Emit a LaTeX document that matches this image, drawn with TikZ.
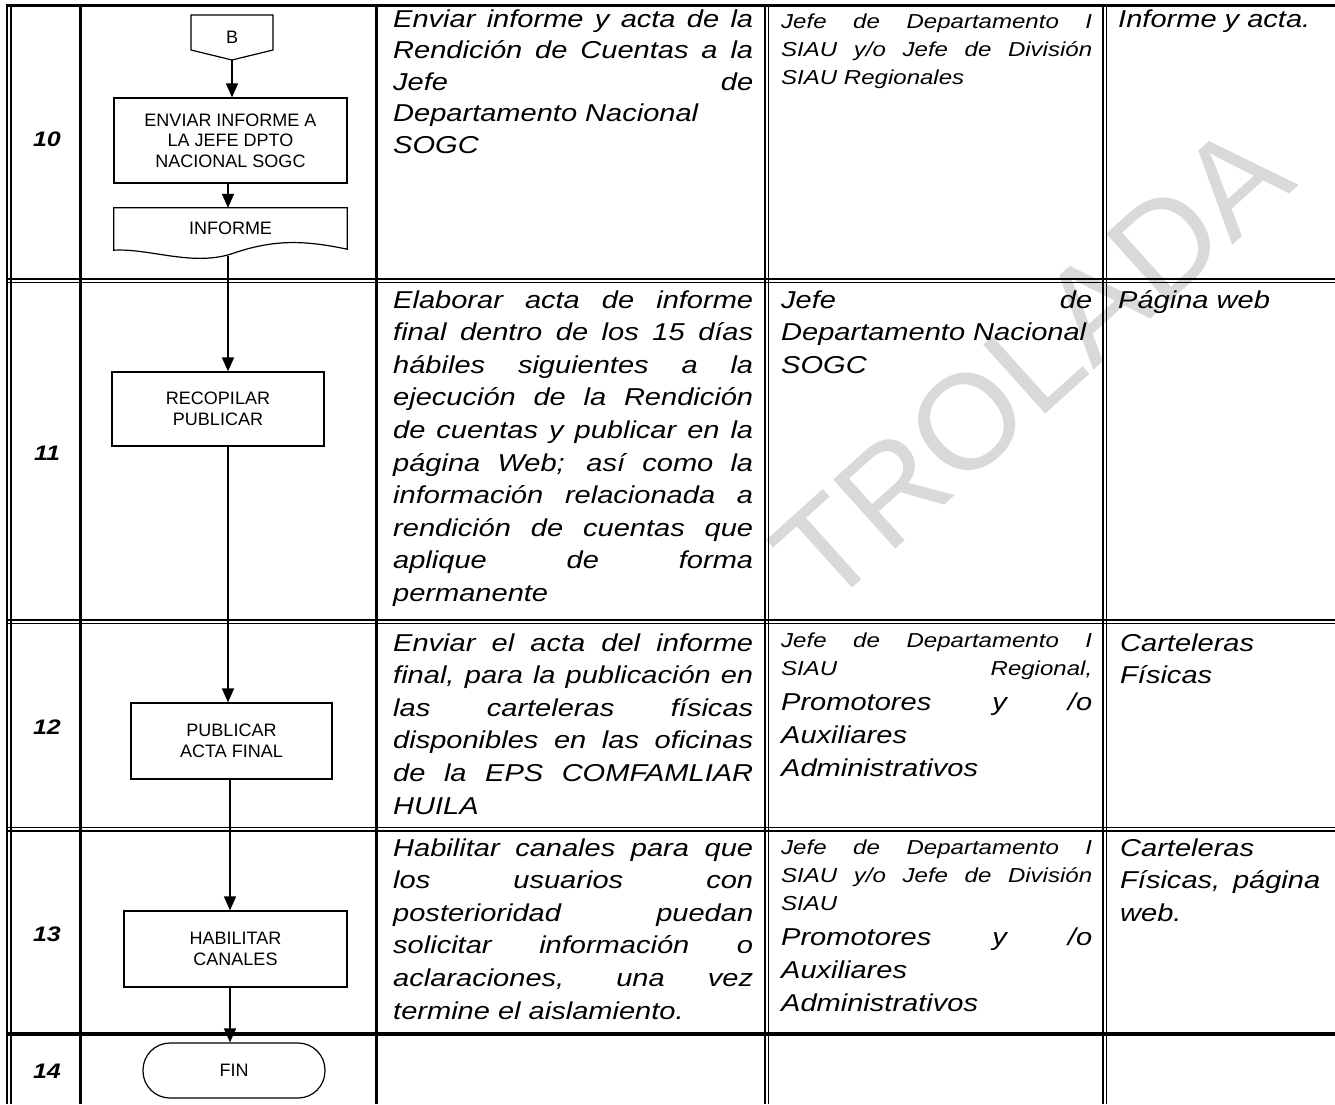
\documentclass[tikz,border=0pt]{standalone}
\usepackage{fontspec}
\setmainfont{Liberation Sans}
\newfontfamily\wfont[FakeStretch=1.19]{Liberation Sans}
\usetikzlibrary{arrows.meta}
\newcommand\JJ[1]{\makebox[\linewidth][s]{#1}\par}
\newcommand\LLn[1]{\makebox[\linewidth][l]{#1}\par}
\newcommand\bigf{\wfont\fontsize{24.4}{32.6}\selectfont}
\newcommand\smaf{\wfont\fontsize{20.2}{28}\selectfont}
\begin{document}
\begin{tikzpicture}[x=1pt,y=-1pt,
  thick line/.style={line width=3pt},
  thin line/.style={line width=1.2pt},
  txt/.style={inner sep=0pt, font=\bigf\itshape},
  num/.style={inner sep=0pt, font=\wfont\bfseries\itshape\fontsize{21}{24}\selectfont},
  fbox/.style={draw, line width=1.2pt, inner sep=0pt, align=center, font=\fontsize{18}{20.7}\selectfont},
  arr/.style={line width=1.6pt, -{Triangle[width=12pt,length=14pt]}},
  watermark/.style={inner sep=0pt, text=black!15, font=\fontsize{135}{135}\selectfont}]
\useasboundingbox (0,0) rectangle (1335,1104);
\fill[white] (0,0) rectangle (1335,1104);
% ---------- watermark (visible part) ----------
\begin{scope}
\clip (757,7) rectangle (1335,619);
\node[watermark, anchor=base east, rotate=42] (wm) at (1300,185) {TROLADA};
\end{scope}
% ---------- table lines ----------
\draw[line width=3.5pt] (6,5.5) -- (1335,5.5);
\foreach \x in {7,11} \draw[thin line] (\x,5) -- (\x,1104);
\draw[thick line] (80.5,5) -- (80.5,1104);
\draw[thick line] (376.5,5) -- (376.5,1104);
\foreach \x in {765,768.5,1103,1106.5} \draw[thin line] (\x,5) -- (\x,1104);
\foreach \y in {279,282.5,620,623.5,827.5,831} \draw[thin line] (6,\y) -- (1335,\y);
\draw[line width=4pt] (6,1033.5) -- (1335,1033.5);
% ---------- step numbers ----------
\node[num] (n10) at (47,139) {10};
\node[num] (n11) at (47,453) {11};
\node[num] (n12) at (47,727) {12};
\node[num] (n13) at (47,934) {13};
\node[num] (n14) at (47,1071) {14};
% ---------- flowchart ----------
\draw[line width=1.2pt] (191,15) -- (273,15) -- (273,50) -- (232,60) -- (191,50) -- cycle;
\node[inner sep=0pt, font=\fontsize{18}{20.7}\selectfont] (B) at (232,37) {B};
\coordinate (Bbot) at (232,60);
\node[fbox, minimum width=233pt, minimum height=85pt] (box1) at (230.5,140.5) {ENVIAR INFORME A\\LA JEFE DPTO\\NACIONAL SOGC};
\node[inner sep=0pt, minimum width=233pt, minimum height=40pt, font=\fontsize{18}{20.7}\selectfont] (doc) at (230.5,228) {INFORME};
\draw[line width=1.2pt] (doc.north west) -- (doc.north east) -- ([yshift=-1pt]doc.south east)
  .. controls ++(-47,-10) and ++(40,-14) .. ([yshift=-6pt]doc.south)
  .. controls ++(-40,12) and ++(36,-2) .. ([yshift=-2pt]doc.south west) -- cycle;
\coordinate (docbot) at (228,256);
\node[fbox, minimum width=212pt, minimum height=74pt] (rec) at (218,409) {RECOPILAR\\PUBLICAR};
\node[fbox, minimum width=201pt, minimum height=76pt] (pub) at (231.5,741) {PUBLICAR\\ACTA FINAL};
\node[fbox, minimum width=223pt, minimum height=76pt] (hab) at (235.5,949) {HABILITAR\\CANALES};
\node[fbox, minimum width=182pt, minimum height=55pt, rounded corners=27pt] (fin) at (234,1070.5) {FIN};
\coordinate (ax1) at (228,0);
\coordinate (ax2) at (230,0);
\draw[arr] (Bbot) -- (Bbot |- box1.north);
\draw[arr] (box1.south -| ax1) -- (ax1 |- doc.north);
\draw[arr] (docbot) -- (docbot |- rec.north);
\draw[arr] (rec.south -| ax1) -- (ax1 |- pub.north);
\draw[arr] (pub.south -| ax2) -- (ax2 |- hab.north);
\draw[arr] (hab.south -| ax2) -- (ax2 |- fin.north);
% ---------- row 10 ----------
\node[txt, anchor=base west] (d10) at (393,27) {\parbox[t]{360pt}{\fontsize{24.4}{31.5}\selectfont
 \JJ{Enviar informe y acta de la}\JJ{Rendición de Cuentas a la}\JJ{Jefe de}\LLn{Departamento Nacional}\LLn{SOGC}}};
\node[txt, anchor=base west] (r10) at (781,28) {\parbox[t]{311pt}{\smaf
 \JJ{Jefe de Departamento I}\JJ{SIAU y/o Jefe de División}\LLn{SIAU Regionales}}};
\node[txt, anchor=base west] (o10) at (1118,27) {\parbox[t]{200pt}{\LLn{Informe y acta.}}};
% ---------- row 11 ----------
\node[txt, anchor=base west] (d11) at (393,308) {\parbox[t]{360pt}{
 \JJ{Elaborar acta de informe}\JJ{final dentro de los 15 días}\JJ{hábiles siguientes a la}
 \JJ{ejecución de la Rendición}\JJ{de cuentas y publicar en la}\JJ{página Web; así como la}
 \JJ{información relacionada a}\JJ{rendición de cuentas que}\JJ{aplique de forma}\LLn{permanente}}};
\node[txt, anchor=base west] (r11) at (781,308) {\parbox[t]{311pt}{
 \JJ{Jefe de}\LLn{Departamento Nacional}\LLn{SOGC}}};
\node[txt, anchor=base west] (o11) at (1118,308) {\parbox[t]{200pt}{\LLn{Página web}}};
% ---------- row 12 ----------
\node[txt, anchor=base west] (d12) at (393,651) {\parbox[t]{360pt}{
 \JJ{Enviar el acta del informe}\JJ{final, para la publicación en}\JJ{las carteleras físicas}
 \JJ{disponibles en las oficinas}\JJ{de la EPS COMFAMLIAR}\LLn{HUILA}}};
\node[txt, anchor=base west] (r12) at (781,647) {\parbox[t]{311pt}{\smaf
 \JJ{Jefe de Departamento I}\JJ{SIAU Regional,}
 \fontsize{24.4}{35}\selectfont\JJ{Promotores y /o}
 \fontsize{24.4}{33}\selectfont\LLn{Auxiliares}\LLn{Administrativos}}};
\node[txt, anchor=base west] (o12) at (1120,651) {\parbox[t]{200pt}{\LLn{Carteleras}\LLn{Físicas}}};
% ---------- row 13 ----------
\node[txt, anchor=base west] (d13) at (393,856) {\parbox[t]{360pt}{
 \JJ{Habilitar canales para que}\JJ{los usuarios con}\JJ{posterioridad puedan}
 \JJ{solicitar información o}\JJ{aclaraciones, una vez}\LLn{termine el aislamiento.}}};
\node[txt, anchor=base west] (r13) at (781,854) {\parbox[t]{311pt}{\smaf
 \JJ{Jefe de Departamento I}\JJ{SIAU y/o Jefe de División}\LLn{SIAU}
 \fontsize{24.4}{35}\selectfont\JJ{Promotores y /o}
 \fontsize{24.4}{33}\selectfont\LLn{Auxiliares}\LLn{Administrativos}}};
\node[txt, anchor=base west] (o13) at (1120,856) {\parbox[t]{200pt}{\LLn{Carteleras}\JJ{Físicas, página}\LLn{web.}}};
\end{tikzpicture}
\end{document}
